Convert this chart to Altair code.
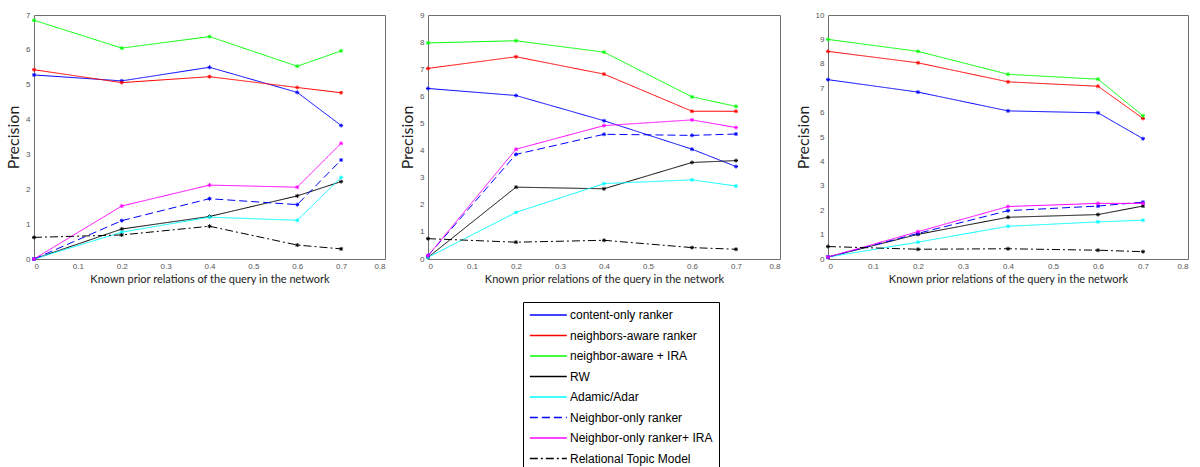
import altair as alt
import pandas as pd

# ---- data ----
x_vals = [0.0, 0.2, 0.4, 0.6, 0.7]

series_names = [
    "content-only ranker",
    "neighbors-aware ranker",
    "neighbor-aware + IRA",
    "RW",
    "Adamic/Adar",
    "Neighbor-only ranker",
    "Neighbor-only ranker+ IRA",
    "Relational Topic Model",
]
series_colors = ["#0000ff", "#ff0000", "#00ff00", "#000000", "#00ffff", "#0000ff", "#ff00ff", "#000000"]
series_dashes = [[1, 0], [1, 0], [1, 0], [1, 0], [1, 0], [8, 4], [1, 0], [8, 3, 2, 3]]

# panel 1
p1_content = [5.28, 5.11, 5.50, 4.78, 3.83]
p1_neigh = [5.43, 5.06, 5.23, 4.92, 4.77]
p1_neigh_ira = [6.85, 6.05, 6.38, 5.53, 5.97]
p1_rw = [0.0, 0.86, 1.22, 1.81, 2.22]
p1_adamic = [0.0, 0.77, 1.20, 1.11, 2.34]
p1_nonly = [0.0, 1.10, 1.73, 1.56, 2.84]
p1_nonly_ira = [0.0, 1.52, 2.12, 2.06, 3.32]
p1_rtm = [0.62, 0.69, 0.94, 0.40, 0.29]

# panel 2
p2_content = [6.29, 6.03, 5.10, 4.05, 3.41]
p2_neigh = [7.03, 7.46, 6.82, 5.45, 5.45]
p2_neigh_ira = [7.97, 8.05, 7.63, 5.98, 5.63]
p2_rw = [0.06, 2.65, 2.59, 3.56, 3.63]
p2_adamic = [0.06, 1.72, 2.78, 2.92, 2.69]
p2_nonly = [0.12, 3.86, 4.60, 4.56, 4.61]
p2_nonly_ira = [0.12, 4.05, 4.92, 5.13, 4.85]
p2_rtm = [0.75, 0.62, 0.69, 0.42, 0.36]

# panel 3
p3_content = [7.35, 6.84, 6.07, 5.99, 4.93]
p3_neigh = [8.51, 8.04, 7.26, 7.08, 5.76]
p3_neigh_ira = [9.00, 8.51, 7.57, 7.37, 5.87]
p3_rw = [0.08, 1.01, 1.71, 1.82, 2.17]
p3_adamic = [0.08, 0.69, 1.34, 1.52, 1.59]
p3_nonly = [0.08, 1.05, 1.98, 2.17, 2.33]
p3_nonly_ira = [0.08, 1.12, 2.15, 2.28, 2.28]
p3_rtm = [0.51, 0.40, 0.42, 0.36, 0.30]

panel_series = [
    [p1_content, p1_neigh, p1_neigh_ira, p1_rw, p1_adamic, p1_nonly, p1_nonly_ira, p1_rtm],
    [p2_content, p2_neigh, p2_neigh_ira, p2_rw, p2_adamic, p2_nonly, p2_nonly_ira, p2_rtm],
    [p3_content, p3_neigh, p3_neigh_ira, p3_rw, p3_adamic, p3_nonly, p3_nonly_ira, p3_rtm],
]
y_max = [7, 9, 10]
x_ticks = [0, 0.1, 0.2, 0.3, 0.4, 0.5, 0.6, 0.7, 0.8]
panel_w = [351, 352, 360]
panel_h = 244

X_TITLE = "Known prior relations of the query in the network"
Y_TITLE = "Precision"

ASTERISK = "M-1,0H1M0,-1V1M-0.7,-0.7L0.7,0.7M-0.7,0.7L0.7,-0.7"

rows = []
for pi, series in enumerate(panel_series):
    for si, vals in enumerate(series):
        for xv, yv in zip(x_vals, vals):
            rows.append({"panel": pi, "series": series_names[si], "order": si, "x": xv, "y": yv})
df = pd.DataFrame(rows)

color_scale = alt.Scale(domain=series_names, range=series_colors)
dash_scale = alt.Scale(domain=series_names, range=series_dashes)

legend = alt.Legend(
    title=None,
    orient="none",
    legendX=489,
    legendY=287,
    fillColor="white",
    strokeColor="black",
    padding=6,
    symbolType="M-1,0H5",
    symbolSize=152,
    symbolStrokeWidth=1.3,
    symbolFillColor="transparent",
    labelFont="Liberation Sans",
    labelFontSize=12,
    labelColor="#000000",
    labelOffset=27,
    labelLimit=300,
    rowPadding=7.5,
)


def panel(pi):
    d = df[df["panel"] == pi]
    base = alt.Chart(d).mark_line(
        strokeWidth=1,
        point=alt.OverlayMarkDef(filled=False, size=16, shape=ASTERISK, strokeWidth=1, strokeDash=[1, 0]),
    ).encode(
        x=alt.X(
            "x:Q",
            scale=alt.Scale(domain=[0, 0.8], nice=False),
            axis=alt.Axis(values=x_ticks, format="~g", title=X_TITLE),
        ),
        y=alt.Y(
            "y:Q",
            scale=alt.Scale(domain=[0, y_max[pi]], nice=False),
            axis=alt.Axis(values=list(range(0, y_max[pi] + 1)), title=Y_TITLE),
        ),
        color=alt.Color("series:N", scale=color_scale, sort=series_names, legend=legend),
        strokeDash=alt.StrokeDash("series:N", scale=dash_scale, sort=series_names, legend=legend),
        detail="series:N",
        order="x:Q",
    ).properties(width=panel_w[pi], height=panel_h)
    return base


chart = alt.hconcat(panel(0), panel(1), panel(2), spacing=13).properties(
    padding={"left": 5, "top": 10, "right": 5, "bottom": 5}
).configure_view(
    stroke="#6e6e6e", strokeWidth=1
).configure_axis(
    grid=False,
    domain=False,
    ticks=False,
    labelFont="Liberation Sans",
    labelFontSize=8,
    labelColor="#555555",
    titleFont="Lato",
    titleFontWeight="normal",
    titleColor="#222222",
).configure_axisX(
    labelPadding=3,
    titleFontSize=11,
    titlePadding=3,
).configure_axisY(
    labelPadding=4,
    titleFontSize=16,
    titlePadding=4,
)

chart.save("out.html", embed_options={"renderer": "svg", "actions": False})
